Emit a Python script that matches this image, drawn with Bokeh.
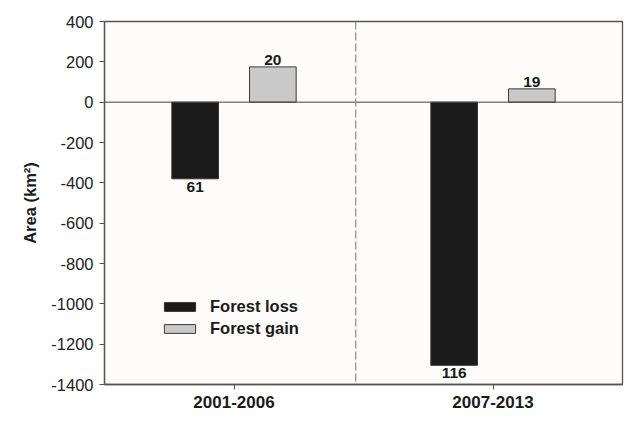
from bokeh.plotting import figure
from bokeh.models import (FactorRange, Range1d, FixedTicker, Span, Legend,
                          LegendItem, ColumnDataSource, PrintfTickFormatter)
from bokeh.transform import dodge
from bokeh.core.properties import value
from bokeh.embed import file_html
from bokeh.resources import INLINE

periods = ["2001-2006", "2007-2013"]
loss_area = [-380, -1305]
gain_area = [175, 66]
loss_labels = ["61", "116"]
gain_labels = ["20", "19"]
y_ticks = [-1400, -1200, -1000, -800, -600, -400, -200, 0, 200, 400]

FONT = "Liberation Sans"

src = ColumnDataSource(data=dict(period=periods, loss=loss_area, gain=gain_area,
                                 loss_lab=loss_labels, gain_lab=gain_labels))

p = figure(x_range=FactorRange(*periods, range_padding=0),
           y_range=Range1d(-1400, 400),
           width=632, height=417, output_backend="svg", toolbar_location=None,
           min_border_left=104, min_border_right=10, min_border_top=21,
           min_border_bottom=33)

p.background_fill_color = "#fdfcfa"
p.border_fill_color = "white"
p.outline_line_color = "#555555"
p.outline_line_width = 1.3
p.xgrid.visible = False
p.ygrid.visible = False

r_loss = p.vbar(x=dodge("period", -0.15, range=p.x_range), top="loss", bottom=0,
                width=0.18, source=src, fill_color="#1b1b1b", line_color="#333333",
                line_width=1)
r_gain = p.vbar(x=dodge("period", 0.15, range=p.x_range), top="gain", bottom=0,
                width=0.18, source=src, fill_color="#c9c9c9", line_color="#3a3a3a",
                line_width=1)

p.text(x=dodge("period", -0.15, range=p.x_range), y="loss", text="loss_lab",
       source=src, text_align="center", text_baseline="top", y_offset=3,
       text_font=value(FONT), text_font_size="15.5px", text_font_style="bold",
       text_color="#1a1a1a")
p.text(x=dodge("period", 0.15, range=p.x_range), y="gain", text="gain_lab",
       source=src, text_align="center", text_baseline="bottom", y_offset=-2,
       text_font=value(FONT), text_font_size="15.5px", text_font_style="bold",
       text_color="#1a1a1a")

p.add_layout(Span(location=0, dimension="width", line_color="#444444", line_width=1))
p.add_layout(Span(location=0.97, dimension="height", line_color="#8a8a8a",
                  line_width=1.2, line_dash="8 3"))

# axes
p.yaxis.ticker = FixedTicker(ticks=y_ticks, minor_ticks=[])
p.yaxis.formatter = PrintfTickFormatter(format="%d")
p.yaxis.axis_label = "Area (km²)"
p.yaxis.axis_label_text_font = FONT
p.yaxis.axis_label_text_font_size = "16.5px"
p.yaxis.axis_label_text_font_style = "bold"
p.yaxis.axis_label_text_color = "#1a1a1a"
p.yaxis.axis_label_standoff = 9
p.yaxis.major_label_text_font = FONT
p.yaxis.major_label_text_font_size = "16.5px"
p.yaxis.major_label_text_color = "#222222"
p.yaxis.major_label_standoff = 6

p.xaxis.major_label_text_font = FONT
p.xaxis.major_label_text_font_size = "17px"
p.xaxis.major_label_text_font_style = "bold"
p.xaxis.major_label_text_color = "#1a1a1a"
p.xaxis.major_label_standoff = 6

for ax in (p.xaxis, p.yaxis):
    ax.axis_line_color = "#555555"
    ax.axis_line_width = 1.3
    ax.major_tick_line_color = "#555555"
    ax.major_tick_out = 5
    ax.major_tick_in = 0
    ax.minor_tick_line_color = None

legend = Legend(items=[LegendItem(label="Forest loss", renderers=[r_loss]),
                       LegendItem(label="Forest gain", renderers=[r_gain])],
                location=(56, 46), glyph_width=39, glyph_height=11,
                label_standoff=11, spacing=3, padding=0, margin=0,
                border_line_color=None, background_fill_alpha=0,
                label_text_font=FONT, label_text_font_size="16.5px",
                label_text_font_style="bold", label_text_color="#1a1a1a")
p.add_layout(legend)

open("out.html", "w").write(file_html(p, INLINE))
